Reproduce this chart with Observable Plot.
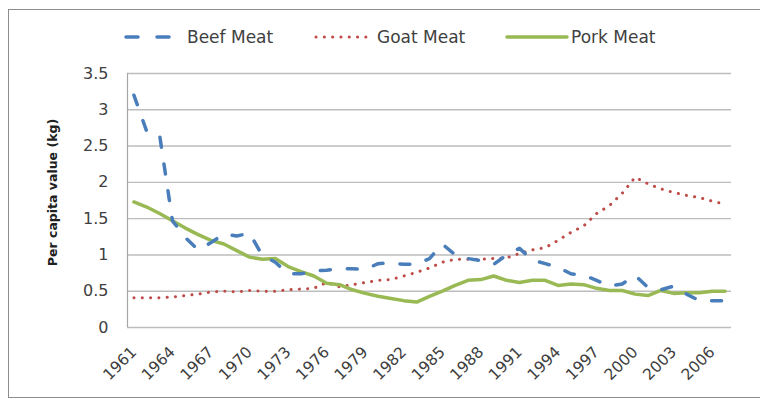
<!DOCTYPE html>
<html>
<head>
<meta charset="utf-8">
<script src="https://cdn.jsdelivr.net/npm/d3@7"></script>
<script src="https://cdn.jsdelivr.net/npm/@observablehq/plot@0.6"></script>
<style>
  html, body { margin: 0; padding: 0; background: #fff; }
  #wrap { position: relative; width: 760px; height: 402px; overflow: hidden; font-family: "DejaVu Sans", sans-serif; }
  #frame { position: absolute; left: 8px; top: 9px; width: 800px; height: 389px; border: 1px solid #8c8c8c; box-sizing: border-box; pointer-events: none; }
  #legend { position: absolute; top: 25px; left: 0; height: 24px; width: 760px; font-size: 17px; color: #404040; }
  #legend .item { position: absolute; top: 0; display: flex; align-items: center; height: 24px; }
  #legend svg { display: block; }
</style>
</head>
<body>
<div id="wrap"><div id="chart"></div><div id="legend"></div><div id="frame"></div></div>
<script>
const years = [1961,1962,1963,1964,1965,1966,1967,1968,1969,1970,1971,1972,1973,1974,1975,1976,1977,1978,1979,1980,1981,1982,1983,1984,1985,1986,1987,1988,1989,1990,1991,1992,1993,1994,1995,1996,1997,1998,1999,2000,2001,2002,2003,2004,2005,2006,2007];
const beef = [3.20,2.70,2.65,1.47,1.24,1.07,1.17,1.29,1.26,1.30,0.99,0.90,0.74,0.74,0.78,0.79,0.81,0.81,0.80,0.88,0.89,0.87,0.87,0.95,1.15,1.00,0.95,0.92,0.87,1.00,1.09,0.93,0.88,0.83,0.74,0.72,0.65,0.57,0.60,0.72,0.55,0.52,0.57,0.46,0.37,0.37,0.37];
const goat = [0.41,0.41,0.41,0.42,0.44,0.46,0.49,0.50,0.49,0.51,0.50,0.50,0.52,0.53,0.54,0.62,0.56,0.59,0.62,0.65,0.66,0.71,0.76,0.82,0.90,0.94,0.94,0.94,0.95,0.96,1.02,1.07,1.10,1.20,1.31,1.40,1.57,1.68,1.85,2.07,1.98,1.91,1.86,1.82,1.79,1.74,1.70];
const pork = [1.73,1.66,1.57,1.47,1.37,1.28,1.20,1.15,1.06,0.97,0.94,0.95,0.84,0.77,0.71,0.61,0.59,0.52,0.47,0.43,0.40,0.37,0.35,0.43,0.50,0.58,0.65,0.66,0.71,0.65,0.62,0.65,0.65,0.58,0.60,0.59,0.54,0.51,0.51,0.46,0.44,0.51,0.47,0.48,0.48,0.50,0.50];
const xTickYears = [1961,1964,1967,1970,1973,1976,1979,1982,1985,1988,1991,1994,1997,2000,2003,2006];
const yTicks = [0,0.5,1,1.5,2,2.5,3,3.5];
const seriesNames = ["Beef Meat","Goat Meat","Pork Meat"];
const seriesColors = ["#4a7ebb","#be4b48","#98b954"];
const yLabel = "Per capita value (kg)";

const rows = (vals) => years.map((yr, i) => ({year: yr, value: vals[i]}));

const chart = Plot.plot({
  width: 760,
  height: 402,
  marginLeft: 127,
  marginRight: 29,
  marginTop: 73,
  marginBottom: 75,
  style: {fontFamily: "DejaVu Sans, sans-serif", background: "transparent", overflow: "visible"},
  x: {type: "linear", domain: [1960.5, 2007.5], axis: null},
  y: {domain: [0, 3.5]},
  marks: [
    Plot.ruleY(yTicks, {stroke: "#bdbdbd", strokeWidth: 1.4}),
    Plot.ruleX([1960.5], {stroke: "#a6a6a6", strokeWidth: 1.2}),
    Plot.axisY({ticks: yTicks, tickSize: 0, tickPadding: 19, tickFormat: d => String(d), fontSize: 16, fill: "#404040", label: null}),
    Plot.text(xTickYears, {x: d => d, text: d => String(d), frameAnchor: "bottom", dy: 22, rotate: -45, textAnchor: "end", lineAnchor: "middle", fontSize: 15.5, fill: "#404040"}),
    Plot.text([yLabel], {text: d => d, frameAnchor: "left", textAnchor: "middle", lineAnchor: "middle", dx: -75, dy: -8, rotate: -90, fontSize: 12.5, fontWeight: "bold", fill: "#202020"}),
    Plot.line(rows(goat), {x: "year", y: "value", stroke: seriesColors[1], strokeWidth: 3, strokeDasharray: "0.1,8.2", strokeLinecap: "round"}),
    Plot.line(rows(pork), {x: "year", y: "value", stroke: seriesColors[2], strokeWidth: 3.5, strokeLinejoin: "round"}),
    Plot.line(rows(beef), {x: "year", y: "value", stroke: seriesColors[0], strokeWidth: 3.5, strokeDasharray: "10,17", strokeLinecap: "round"})
  ]
});
document.getElementById("chart").appendChild(chart);

// legend
const legend = document.getElementById("legend");
const legendPos = [{sx: 123, tx: 187}, {sx: 313, tx: 377}, {sx: 505, tx: 571}];
const swatches = [
  `<line x1="3" y1="6" x2="57" y2="6" stroke="${seriesColors[0]}" stroke-width="3.5" stroke-dasharray="12,19" stroke-linecap="round"/>`,
  `<line x1="3" y1="6" x2="57" y2="6" stroke="${seriesColors[1]}" stroke-width="3" stroke-dasharray="0.1,8.2" stroke-linecap="round"/>`,
  `<line x1="2" y1="6" x2="62" y2="6" stroke="${seriesColors[2]}" stroke-width="3.5" stroke-linecap="round"/>`
];
seriesNames.forEach((name, i) => {
  const sw = document.createElement("div");
  sw.className = "item";
  sw.style.left = legendPos[i].sx + "px";
  sw.innerHTML = `<svg width="66" height="12">${swatches[i]}</svg>`;
  legend.appendChild(sw);
  const t = document.createElement("div");
  t.className = "item";
  t.style.left = legendPos[i].tx + "px";
  t.textContent = name;
  legend.appendChild(t);
});
</script>
</body>
</html>
